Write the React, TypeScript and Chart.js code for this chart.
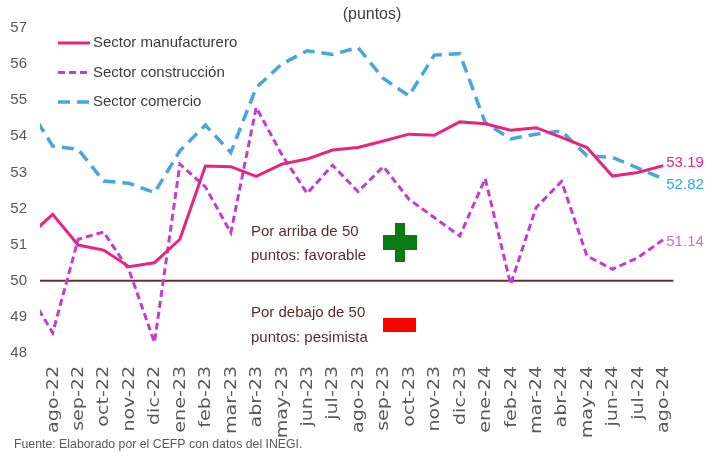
import React, { useEffect, useRef } from 'react';
import { Chart, registerables } from 'chart.js';

Chart.register(...registerables);

const categories = [
  'ago-22', 'sep-22', 'oct-22', 'nov-22', 'dic-22', 'ene-23', 'feb-23', 'mar-23', 'abr-23',
  'may-23', 'jun-23', 'jul-23', 'ago-23', 'sep-23', 'oct-23', 'nov-23', 'dic-23', 'ene-24',
  'feb-24', 'mar-24', 'abr-24', 'may-24', 'jun-24', 'jul-24', 'ago-24',
];

const manufacturero = [
  51.84, 50.99, 50.85, 50.39, 50.5, 51.15, 53.18, 53.16, 52.89, 53.23, 53.37, 53.62, 53.69,
  53.87, 54.06, 54.03, 54.4, 54.35, 54.17, 54.24, 53.97, 53.69, 52.9, 53.0, 53.19,
];

const construccion = [
  48.56, 51.15, 51.35, 50.3, 48.29, 53.23, 52.6, 51.33, 54.8, 53.5, 52.42, 53.2, 52.47,
  53.16, 52.26, 51.75, 51.24, 52.83, 49.9, 52.03, 52.75, 50.69, 50.32, 50.64, 51.14,
];

const comercio = [
  53.73, 53.64, 52.76, 52.7, 52.44, 53.6, 54.31, 53.55, 55.35, 56.0, 56.37, 56.27, 56.46,
  55.6, 55.12, 56.25, 56.29, 54.38, 53.93, 54.06, 54.15, 53.46, 53.42, 53.12, 52.82,
];

// Month before the first category (jul-22): only its clipped segment shows at the left edge.
const previoManufacturero = 51.2;
const previoConstruccion = 49.72;
const previoComercio = 54.85;

const seriesLabels = ['Sector manufacturero', 'Sector construcción', 'Sector comercio'];
const endLabels = ['53.19', '51.14', '52.82'];
const yMin = 48;
const yMax = 57;
const umbral = 50;

const title = '(puntos)';
const fuente = 'Fuente: Elaborado por el CEFP con datos del INEGI.';
const notaArriba = ['Por arriba de 50', 'puntos: favorable'];
const notaDebajo = ['Por debajo de 50', 'puntos: pesimista'];

const FONT = '"Liberation Sans", Arial, sans-serif';
const TICK_FONT = '"DejaVu Sans", sans-serif';
const C_MANUF = '#E8247C';
const C_CONST = '#C43BD3';
const C_COM = '#47A6DC';

function toPoints(prev: number, values: number[]) {
  return [{ x: -1, y: prev }, ...values.map((v, i) => ({ x: i, y: v }))];
}

const overlay = {
  id: 'overlay',
  beforeDatasetsDraw(chart: any) {
    const { ctx, chartArea, scales } = chart;
    const py = scales.y.getPixelForValue(umbral);
    ctx.save();
    ctx.strokeStyle = '#62302F';
    ctx.lineWidth = 2;
    ctx.beginPath();
    ctx.moveTo(chartArea.left, py);
    ctx.lineTo(scales.x.getPixelForValue(categories.length - 0.6), py);
    ctx.stroke();
    ctx.restore();
  },
  afterDraw(chart: any) {
    const { ctx, scales, chartArea } = chart;
    ctx.save();
    ctx.textBaseline = 'middle';

    // category labels (rotated, drawn at the x scale's tick positions)
    ctx.fillStyle = '#595959';
    ctx.font = `15px ${TICK_FONT}`;
    categories.forEach((c, i) => {
      const px = scales.x.getPixelForValue(i);
      ctx.save();
      ctx.translate(px + 1, chartArea.bottom + 13);
      ctx.rotate(-Math.PI / 2);
      ctx.scale(1.27, 1);
      ctx.textAlign = 'right';
      ctx.fillText(c, 0, 0);
      ctx.restore();
    });

    // title
    ctx.font = `16px ${FONT}`;
    ctx.fillStyle = '#404040';
    ctx.textAlign = 'center';
    ctx.fillText(title, 372, 15);

    // legend
    ctx.textAlign = 'left';
    ctx.font = `15px ${FONT}`;
    const legendY = [43, 72.5, 102];
    chart.data.datasets.forEach((ds: any, i: number) => {
      ctx.save();
      ctx.strokeStyle = ds.borderColor;
      ctx.lineWidth = ds.borderWidth;
      ctx.setLineDash(ds.borderDash || []);
      ctx.beginPath();
      ctx.moveTo(58, legendY[i]);
      ctx.lineTo(90, legendY[i]);
      ctx.stroke();
      ctx.restore();
      ctx.fillStyle = '#3C3C3C';
      ctx.fillText(ds.label, 93, legendY[i]);
    });

    // end labels
    const endColors = ['#E8247C', '#D070DA', '#22ADE8'];
    const endDy = [-3, 2, 6];
    chart.data.datasets.forEach((ds: any, i: number) => {
      const last = ds.data[ds.data.length - 1];
      const px = scales.x.getPixelForValue(last.x);
      const py = scales.y.getPixelForValue(last.y);
      ctx.fillStyle = endColors[i];
      ctx.font = `15px ${FONT}`;
      ctx.fillText(endLabels[i], px + 3, py + endDy[i]);
    });

    // annotations
    ctx.fillStyle = '#5B2B2B';
    ctx.font = `15px ${FONT}`;
    ctx.fillText(notaArriba[0], 251, 232);
    ctx.fillText(notaArriba[1], 251, 256);
    ctx.fillText(notaDebajo[0], 251, 313);
    ctx.fillText(notaDebajo[1], 251, 338);

    // plus sign
    ctx.fillStyle = '#0B7A12';
    ctx.fillRect(383, 235, 34, 15);
    ctx.fillRect(395, 223, 10, 39);
    // minus sign
    ctx.fillStyle = '#FF0000';
    ctx.fillRect(383, 318, 33, 14);

    // source
    ctx.fillStyle = '#595959';
    ctx.font = `12.3px ${FONT}`;
    ctx.fillText(fuente, 14, 445);
    ctx.restore();
  },
};

export default function App() {
  const ref = useRef<HTMLCanvasElement | null>(null);
  useEffect(() => {
    if (!ref.current) return;
    const chart = new Chart(ref.current, {
      type: 'line',
      data: {
        datasets: [
          {
            label: seriesLabels[0],
            data: toPoints(previoManufacturero, manufacturero),
            borderColor: C_MANUF,
            borderWidth: 3,
            borderDash: [],
            pointRadius: 0,
            tension: 0,
            clip: 0,
          },
          {
            label: seriesLabels[1],
            data: toPoints(previoConstruccion, construccion),
            borderColor: C_CONST,
            borderWidth: 3,
            borderDash: [7, 4],
            pointRadius: 0,
            tension: 0,
            clip: 0,
          },
          {
            label: seriesLabels[2],
            data: toPoints(previoComercio, comercio),
            borderColor: C_COM,
            borderWidth: 3.5,
            borderDash: [12, 7],
            pointRadius: 0,
            tension: 0,
            clip: 0,
          },
        ],
      } as any,
      options: {
        animation: false,
        responsive: false,
        devicePixelRatio: 1,
        events: [],
        layout: { padding: { top: 28, right: 40, bottom: 13, left: 0 } },
        plugins: {
          legend: { display: false },
          tooltip: { enabled: false },
          title: { display: false },
        },
        scales: {
          x: {
            type: 'linear',
            min: -0.5,
            max: categories.length - 0.5,
            grid: { display: false, drawTicks: false },
            border: { display: false },
            afterBuildTicks: (s: any) => {
              s.ticks = categories.map((_, i) => ({ value: i }));
            },
            afterFit: (s: any) => {
              s.height = 90;
            },
            ticks: { display: false },
          },
          y: {
            min: yMin,
            max: yMax,
            grid: { display: false, drawTicks: false },
            border: { display: false },
            afterFit: (s: any) => {
              s.width = 40;
            },
            ticks: {
              stepSize: 1,
              padding: 13,
              color: '#595959',
              font: { family: FONT, size: 15 },
            },
          },
        },
      } as any,
      plugins: [overlay],
    });
    return () => chart.destroy();
  }, []);

  return (
    <div style={{ position: 'fixed', left: 0, top: 0, width: 716, height: 456, background: '#fff' }}>
      <canvas ref={ref} width={716} height={456} style={{ display: 'block' }} />
    </div>
  );
}
